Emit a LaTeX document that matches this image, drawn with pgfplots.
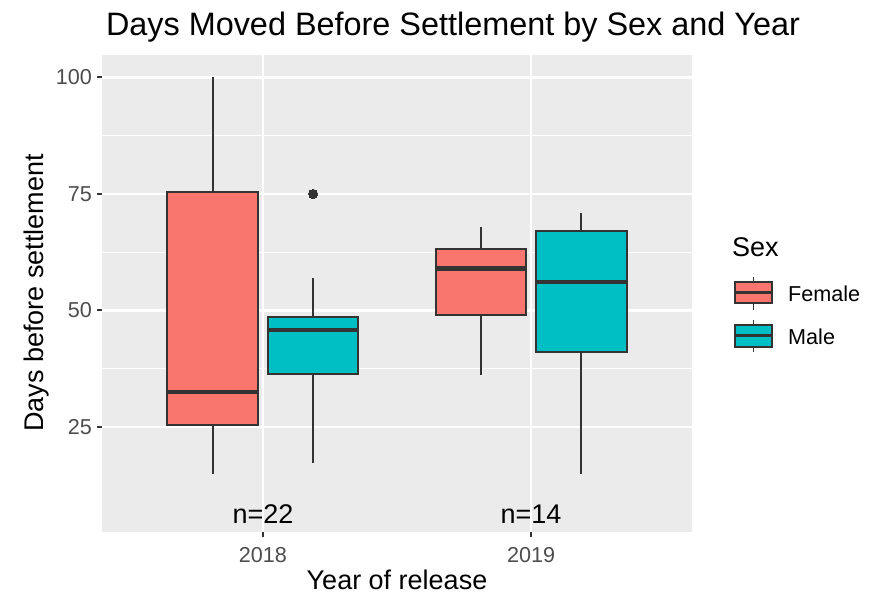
\documentclass[border=0pt]{standalone}
\usepackage{fontspec}
\setmainfont{Liberation Sans}
\usepackage{pgfplots}
\pgfplotsset{compat=1.18}
\usepgfplotslibrary{statistics}

\definecolor{female}{HTML}{F8766D}
\definecolor{male}{HTML}{00BFC4}
\definecolor{panel}{HTML}{EBEBEB}
\definecolor{ink}{HTML}{333333}
\definecolor{ticklab}{HTML}{4D4D4D}

\newcommand{\fs}[1]{\fontsize{#1}{1.2\dimexpr#1\relax}\selectfont}

\begin{document}
\begin{tikzpicture}
\path[use as bounding box] (0,0) rectangle (874bp,597bp);

\begin{axis}[
  at={(102bp,65bp)}, anchor=south west,
  scale only axis, width=590bp, height=477bp,
  xmin=0.4, xmax=2.6, ymin=2.45, ymax=104.83,
  axis background/.style={fill=panel},
  axis line style={draw=none},
  xtick={1,2}, xticklabels={2018,2019},
  ytick={25,50,75,100},
  minor ytick={37.5,62.5,87.5},
  xtick pos=lower, ytick pos=left,
  grid=both,
  major grid style={white, line width=2.4bp},
  minor grid style={white, line width=1.2bp},
  tick align=outside,
  major tick length=5bp, minor tick length=0pt,
  tick style={ink, line width=2bp},
  /pgf/number format/assume math mode=true,
  ticklabel style={font=\fs{21.6bp}, text=ticklab},
  yticklabel style={inner sep=0pt, xshift=-5bp},
  xticklabel style={inner sep=0pt, yshift=-10bp},
  boxplot/draw direction=y,
]

% 2018, female
\addplot[draw=ink, line width=2bp, fill=female,
  boxplot/every median/.style={line width=4.5bp},
  boxplot prepared={draw position=0.8125, box extend=0.3375, whisker extend=0,
    lower whisker=15, lower quartile=25.5, median=32.5,
    upper quartile=75.5, upper whisker=100}]
  coordinates {};

% 2018, male (one outlier at 75)
\addplot[draw=ink, line width=2bp, fill=male,
  mark=*, mark size=4.6bp, mark options={fill=ink, draw=ink, line width=0pt},
  boxplot/every median/.style={line width=4.5bp},
  boxplot prepared={draw position=1.1875, box extend=0.3375, whisker extend=0,
    lower whisker=17.3, lower quartile=36.3, median=45.8,
    upper quartile=48.6, upper whisker=56.9}]
  coordinates {(0,75)};

% 2019, female
\addplot[draw=ink, line width=2bp, fill=female,
  boxplot/every median/.style={line width=4.5bp},
  boxplot prepared={draw position=1.8125, box extend=0.3375, whisker extend=0,
    lower whisker=36.1, lower quartile=49, median=59,
    upper quartile=63.1, upper whisker=68}]
  coordinates {};

% 2019, male
\addplot[draw=ink, line width=2bp, fill=male,
  boxplot/every median/.style={line width=4.5bp},
  boxplot prepared={draw position=2.1875, box extend=0.3375, whisker extend=0,
    lower whisker=15, lower quartile=41, median=56.1,
    upper quartile=67.1, upper whisker=71}]
  coordinates {};

% sample sizes
\node[anchor=base, font=\fs{27bp}] at (axis cs:1,4.25) {n=22};
\node[anchor=base, font=\fs{27bp}] at (axis cs:2,4.25) {n=14};
\end{axis}

% titles
\node[anchor=base, font=\fs{32.4bp}] at (453bp,561bp) {Days Moved Before Settlement by Sex and Year};
\node[anchor=base, font=\fs{27bp}] at (397bp,8bp) {Year of release};
\node[anchor=base, rotate=90, font=\fs{27bp}] at (43.3bp,304bp) {Days before settlement};

% legend
\node[anchor=base west, inner sep=0pt, font=\fs{27bp}] at (732bp,340bp) {Sex};
\begin{scope}[draw=ink, line width=1.6bp]
  \draw (753.5bp,287bp) -- (753.5bp,320bp);
  \filldraw[fill=female] (735bp,294bp) rectangle (772bp,315bp);
  \draw[line width=3bp] (735bp,304.5bp) -- (772bp,304.5bp);
  \draw (753.5bp,245bp) -- (753.5bp,277bp);
  \filldraw[fill=male] (735bp,250bp) rectangle (772bp,272bp);
  \draw[line width=3bp] (735bp,261bp) -- (772bp,261bp);
\end{scope}
\node[anchor=base west, inner sep=0pt, font=\fs{21.6bp}] at (788bp,295.5bp) {Female};
\node[anchor=base west, inner sep=0pt, font=\fs{21.6bp}] at (788bp,252bp) {Male};
\end{tikzpicture}
\end{document}
